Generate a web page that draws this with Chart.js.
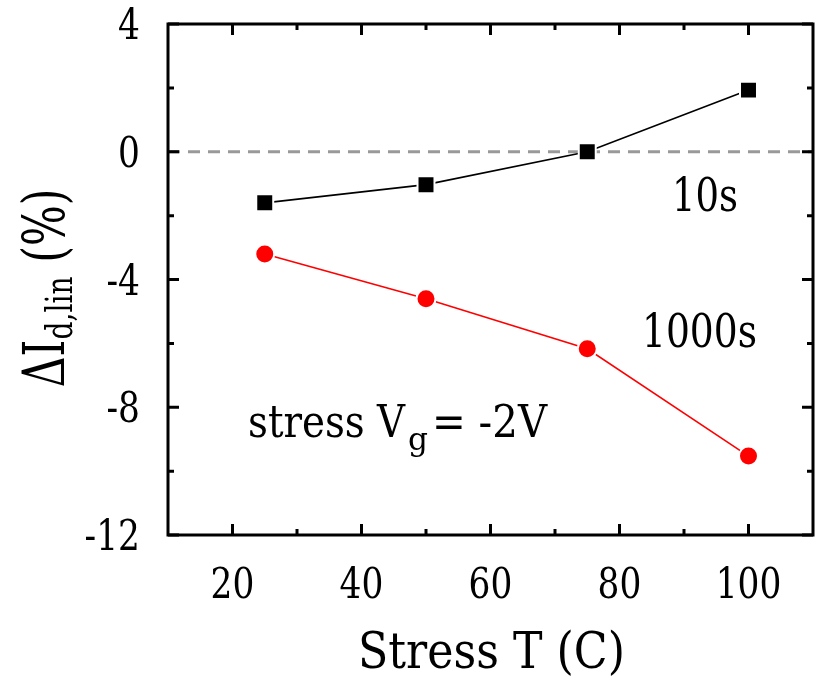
<!DOCTYPE html>
<html>
<head>
<meta charset="utf-8">
<script src="https://cdn.jsdelivr.net/npm/chart.js@4"></script>
<style>
  html, body { margin: 0; padding: 0; background: #fff; }
  #c { display: block; }
</style>
</head>
<body>
<canvas id="c" width="827" height="686"></canvas>
<script>
// data
var stressT = [25, 50, 75, 100];
var dI_10s = [-1.6, -1.03, 0.0, 1.93];
var dI_1000s = [-3.2, -4.6, -6.17, -9.53];

var xMajor = [20, 40, 60, 80, 100];
var xMinor = [30, 50, 70, 90];
var yMajor = [4, 0, -4, -8, -12];
var yMinor = [2, -2, -6, -10];

var FONT = "'DejaVu Serif', serif";

function pts(xs, ys) {
  return xs.map(function(x, i) { return { x: x, y: ys[i] }; });
}

// draws text squeezed horizontally by sq
function sText(ctx, txt, x, y, size, align, sq) {
  ctx.save();
  ctx.font = size + 'px ' + FONT;
  var w = ctx.measureText(txt).width * sq;
  var x0 = x;
  if (align === 'right') x0 = x - w;
  else if (align === 'center') x0 = x - w / 2;
  ctx.translate(x0, y);
  ctx.scale(sq, 1);
  ctx.textAlign = 'left';
  ctx.textBaseline = 'alphabetic';
  ctx.fillStyle = '#000';
  ctx.fillText(txt, 0, 0);
  ctx.restore();
  return w;
}

// same, but squeezed to a given width
function wText(ctx, txt, x, y, size, width) {
  ctx.font = size + 'px ' + FONT;
  var sq = width / ctx.measureText(txt).width;
  return sText(ctx, txt, x, y, size, 'left', sq);
}

var framePlugin = {
  id: 'frame',
  beforeDatasetsDraw: function(chart) {
    var ctx = chart.ctx, a = chart.chartArea;
    var y0 = chart.scales.y.getPixelForValue(0);
    ctx.save();
    ctx.strokeStyle = '#999999';
    ctx.lineWidth = 3;
    ctx.setLineDash([12, 8]);
    ctx.beginPath();
    ctx.moveTo(a.left, y0);
    ctx.lineTo(a.right, y0);
    ctx.stroke();
    ctx.restore();
  },
  afterDraw: function(chart) {
    var ctx = chart.ctx, a = chart.chartArea;
    var xs = chart.scales.x, ys = chart.scales.y;
    ctx.save();
    ctx.strokeStyle = '#000';
    ctx.lineWidth = 3;
    ctx.strokeRect(a.left, a.top, a.right - a.left, a.bottom - a.top);

    // inward ticks on all four sides
    function tick(px, len, vertical) {
      ctx.beginPath();
      if (vertical) {
        ctx.moveTo(px, a.bottom); ctx.lineTo(px, a.bottom - len);
        ctx.moveTo(px, a.top); ctx.lineTo(px, a.top + len);
      } else {
        ctx.moveTo(a.left, px); ctx.lineTo(a.left + len, px);
        ctx.moveTo(a.right, px); ctx.lineTo(a.right - len, px);
      }
      ctx.stroke();
    }
    xMajor.forEach(function(v) { tick(xs.getPixelForValue(v), 11, true); });
    xMinor.forEach(function(v) { tick(xs.getPixelForValue(v), 6, true); });
    yMajor.forEach(function(v) { tick(ys.getPixelForValue(v), 11, false); });
    yMinor.forEach(function(v) { tick(ys.getPixelForValue(v), 6, false); });
    ctx.restore();

    // tick labels
    xMajor.forEach(function(v) {
      sText(ctx, String(v), xs.getPixelForValue(v), 598, 43, 'center', 0.8);
    });
    yMajor.forEach(function(v) {
      sText(ctx, String(v), 140, ys.getPixelForValue(v) + 15, 43, 'right', 0.8);
    });

    // x title
    wText(ctx, 'Stress T (C)', 358, 668, 50, 267);

    // y title, rotated, with subscript
    var SQ = 0.74;
    ctx.save();
    ctx.translate(64, 288);
    ctx.rotate(-Math.PI / 2);
    var big = 58, sub = 38;
    ctx.font = big + 'px ' + FONT;
    var w1 = ctx.measureText('\u0394I').width * SQ;
    ctx.font = sub + 'px ' + FONT;
    var w2 = ctx.measureText('d,lin').width * SQ;
    ctx.font = big + 'px ' + FONT;
    var w3 = ctx.measureText(' (%)').width * SQ;
    var start = -(w1 + w2 + w3) / 2;
    sText(ctx, '\u0394I', start, 0, big, 'left', SQ);
    sText(ctx, 'd,lin', start + w1, 8, sub, 'left', SQ);
    sText(ctx, ' (%)', start + w1 + w2, 0, big, 'left', SQ);
    ctx.restore();

    // annotations
    wText(ctx, '10s', 672, 211, 46, 66);
    wText(ctx, '1000s', 642, 347, 46, 115);
    wText(ctx, 'stress V', 248, 437, 45, 157);
    wText(ctx, 'g', 408, 450, 32, 20);
    wText(ctx, '= -2V', 432, 437, 45, 115);
  }
};

new Chart(document.getElementById('c'), {
  type: 'scatter',
  data: {
    datasets: [
      {
        label: '10s',
        data: pts(stressT, dI_10s),
        showLine: true,
        borderColor: '#000',
        borderWidth: 1.6,
        pointStyle: 'rect',
        pointRadius: 12,
        pointBackgroundColor: '#000',
        pointBorderColor: '#fff',
        pointBorderWidth: 2
      },
      {
        label: '1000s',
        data: pts(stressT, dI_1000s),
        showLine: true,
        borderColor: '#ff0000',
        borderWidth: 1.6,
        pointStyle: 'circle',
        pointRadius: 9.5,
        pointBackgroundColor: '#ff0000',
        pointBorderColor: '#fff',
        pointBorderWidth: 2
      }
    ]
  },
  options: {
    responsive: false,
    animation: false,
    layout: { padding: { left: 168, top: 24, right: 0, bottom: 151 } },
    plugins: { legend: { display: false }, tooltip: { enabled: false } },
    scales: {
      x: { type: 'linear', min: 10, max: 110, display: false },
      y: { type: 'linear', min: -12, max: 4, display: false }
    }
  },
  plugins: [framePlugin]
});
</script>
</body>
</html>
